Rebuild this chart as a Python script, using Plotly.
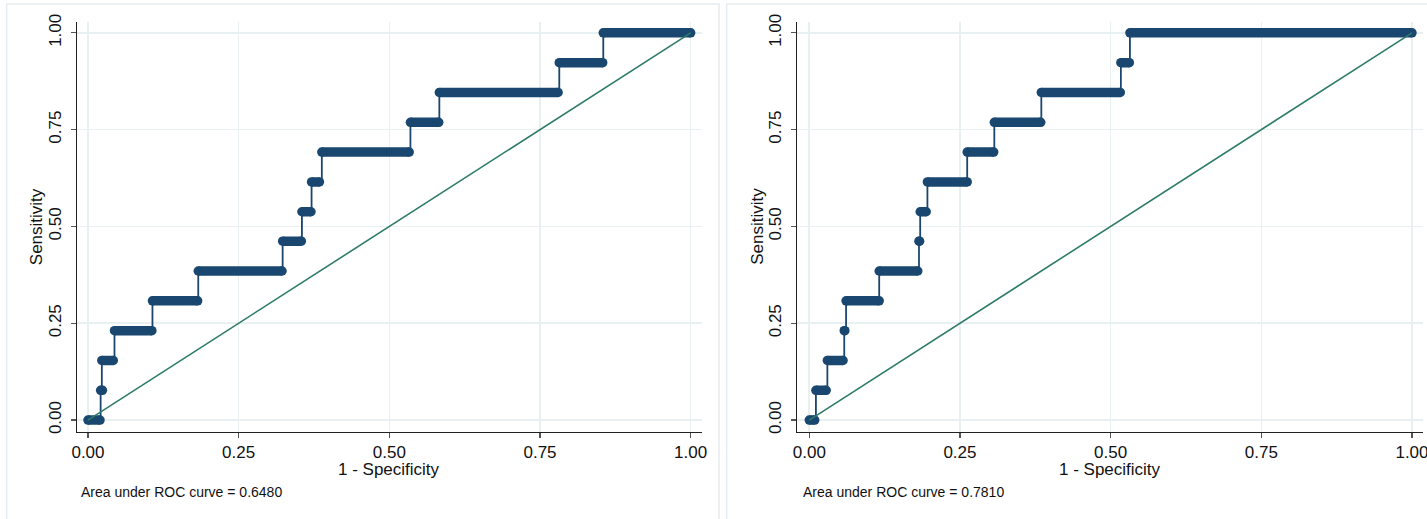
import plotly.graph_objects as go

# ---------------- data ----------------
sens_levels = [0.000, 0.077, 0.154, 0.231, 0.308, 0.385, 0.462,
               0.538, 0.615, 0.692, 0.769, 0.846, 0.923, 1.000]

left_fpr_start = [0.000, 0.021, 0.023, 0.044, 0.107, 0.183, 0.323,
                  0.355, 0.371, 0.388, 0.535, 0.583, 0.782, 0.855]
left_fpr_end = [0.020, 0.024, 0.042, 0.106, 0.182, 0.322, 0.354,
                0.370, 0.384, 0.533, 0.582, 0.780, 0.854, 1.000]
left_auc_text = "Area under ROC curve = 0.6480"

right_fpr_start = [0.000, 0.011, 0.030, 0.058, 0.061, 0.116, 0.182,
                   0.184, 0.196, 0.262, 0.307, 0.385, 0.517, 0.532]
right_fpr_end = [0.009, 0.028, 0.056, 0.059, 0.116, 0.180, 0.183,
                 0.194, 0.262, 0.306, 0.384, 0.516, 0.531, 1.000]
right_auc_text = "Area under ROC curve = 0.7810"

tick_vals = [0, 0.25, 0.5, 0.75, 1.0]
tick_text = ["0.00", "0.25", "0.50", "0.75", "1.00"]
x_title = "1 - Specificity"
y_title = "Sensitivity"
diag = [0.0, 1.0]

# ---------------- styling ----------------
# figure is a little wider than the 1427px window so the last tick label
# is drawn and then cut by the window edge, as in the reference
W, H = 1445, 519
NAVY = "#1a476f"
GREEN = "#2e7b69"
GRID = "#e9f0f2"
FONT = "Liberation Sans, Arial, sans-serif"


def px_x(p):
    return p / W


def px_y(p):
    return (H - p) / H


panels = [
    dict(start=left_fpr_start, end=left_fpr_end, auc=left_auc_text,
         dom=(76.7, 701.7), xr=[-0.0187, 1.0183], ax="", note_x=79.3,
         ytitle_x=36.7, box=(6.7, 719.0)),
    dict(start=right_fpr_start, end=right_fpr_end, auc=right_auc_text,
         dom=(797.3, 1422.7), xr=[-0.0199, 1.0178], ax="2", note_x=800.5,
         ytitle_x=757.3, box=(726.7, 1440.0)),
]

fig = go.Figure()
annotations = []
shapes = []

for i, p in enumerate(panels):
    xa = "x" + p["ax"]
    ya = "y" + p["ax"]
    # thick horizontal runs (dense dots in the original)
    hx, hy = [], []
    for s, e, lv in zip(p["start"], p["end"], sens_levels):
        hx += [s, e, None]
        hy += [lv, lv, None]
    fig.add_trace(go.Scatter(
        x=hx, y=hy, mode="lines+markers", xaxis=xa, yaxis=ya,
        line=dict(color=NAVY, width=9.5),
        marker=dict(color=NAVY, size=9.5, line=dict(width=0)),
        connectgaps=False, showlegend=False, hoverinfo="skip"))
    # thin connecting step line
    sx = list(p["start"]) + [p["end"][-1]]
    sy = list(sens_levels) + [sens_levels[-1]]
    fig.add_trace(go.Scatter(
        x=sx, y=sy, mode="lines", xaxis=xa, yaxis=ya, line_shape="hv",
        line=dict(color=NAVY, width=1.8), showlegend=False, hoverinfo="skip"))
    # reference diagonal
    fig.add_trace(go.Scatter(
        x=diag, y=diag, mode="lines", xaxis=xa, yaxis=ya,
        line=dict(color=GREEN, width=1.6), showlegend=False, hoverinfo="skip"))

    dom = [px_x(p["dom"][0]), px_x(p["dom"][1])]
    axis_common = dict(
        showline=True, linecolor="#222222", linewidth=1.2,
        ticks="outside", ticklen=5, tickwidth=1.2, tickcolor="#555555",
        tickvals=tick_vals, ticktext=tick_text,
        tickfont=dict(family=FONT, size=17, color="#111111"),
        showgrid=True, gridcolor=GRID, gridwidth=1.6, zeroline=False,
        mirror=False, ticklabeloverflow="allow",
    )
    fig.update_layout(**{
        "xaxis" + p["ax"]: dict(domain=dom, range=p["xr"], anchor=ya,
                                ticklabelstandoff=0, **axis_common),
        "yaxis" + p["ax"]: dict(domain=[px_y(431.7), px_y(22)],
                                range=[-0.030, 1.028], anchor=xa,
                                tickangle=-90, ticklabelstandoff=3,
                                **axis_common),
    })
    # axis titles
    annotations.append(dict(
        text=x_title, x=(dom[0] + dom[1]) / 2, y=px_y(469), xref="paper",
        yref="paper", showarrow=False, xanchor="center", yanchor="middle",
        font=dict(family=FONT, size=17, color="#111111")))
    annotations.append(dict(
        text=y_title, x=px_x(p["ytitle_x"]), y=px_y(226.5), xref="paper",
        yref="paper", showarrow=False, xanchor="center", yanchor="middle",
        textangle=-90, font=dict(family=FONT, size=17, color="#111111")))
    annotations.append(dict(
        text=p["auc"], x=px_x(p["note_x"]), y=px_y(491.5), xref="paper",
        yref="paper", showarrow=False, xanchor="left", yanchor="middle",
        font=dict(family=FONT, size=14, color="#111111")))
    # panel border
    shapes.append(dict(
        type="rect", xref="paper", yref="paper",
        x0=px_x(p["box"][0]), x1=px_x(p["box"][1]),
        y0=px_y(560), y1=px_y(4),
        line=dict(color="#e6ecef", width=1.5), fillcolor="rgba(0,0,0,0)",
        layer="below"))

fig.update_layout(
    width=W, height=H, margin=dict(l=0, r=0, t=0, b=0),
    paper_bgcolor="white", plot_bgcolor="white",
    template="none", font=dict(family=FONT),
    annotations=annotations, shapes=shapes, showlegend=False,
)

fig.write_html(
    "out.html",
    config={"displayModeBar": False, "staticPlot": True},
    post_script="document.body.style.margin='0';"
                "document.body.style.overflow='hidden';",
)
